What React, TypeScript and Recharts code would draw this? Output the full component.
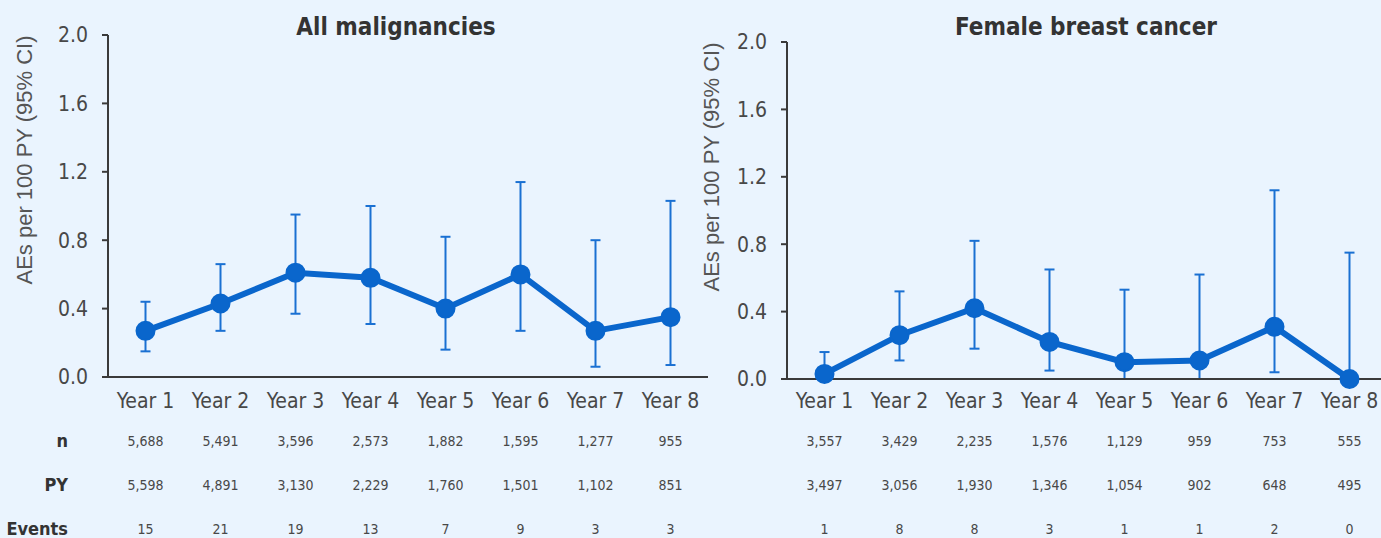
import { ErrorBar, Line, LineChart, XAxis, YAxis } from 'recharts';

const years = ['Year 1', 'Year 2', 'Year 3', 'Year 4', 'Year 5', 'Year 6', 'Year 7', 'Year 8'];
const yTicks = [0, 0.4, 0.8, 1.2, 1.6, 2.0];

// All malignancies
const allRate = [0.27, 0.43, 0.61, 0.58, 0.4, 0.6, 0.27, 0.35];
const allLow = [0.15, 0.27, 0.37, 0.31, 0.16, 0.27, 0.06, 0.07];
const allHigh = [0.44, 0.66, 0.95, 1.0, 0.82, 1.14, 0.8, 1.03];
const allN = [5688, 5491, 3596, 2573, 1882, 1595, 1277, 955];
const allPY = [5598, 4891, 3130, 2229, 1760, 1501, 1102, 851];
const allEvents = [15, 21, 19, 13, 7, 9, 3, 3];

// Female breast cancer
const fbcRate = [0.03, 0.26, 0.42, 0.22, 0.1, 0.11, 0.31, 0.0];
const fbcLow = [0.0, 0.11, 0.18, 0.05, 0.0, 0.0, 0.04, 0.0];
const fbcHigh = [0.16, 0.52, 0.82, 0.65, 0.53, 0.62, 1.12, 0.75];
const fbcN = [3557, 3429, 2235, 1576, 1129, 959, 753, 555];
const fbcPY = [3497, 3056, 1930, 1346, 1054, 902, 648, 495];
const fbcEvents = [1, 8, 8, 3, 1, 1, 2, 0];

const BLUE = '#0a66cc';
const BAR_BLUE = '#1a70d2';
const AXIS = '#3a3a3a';
const TEXT = '#484848';
const COND = "'DejaVu Sans Condensed', 'DejaVu Sans', sans-serif";

const fmt = (v: number) => v.toLocaleString('en-US');

function buildRows(rate: number[], low: number[], high: number[]) {
  return years.map((year, i) => ({
    year,
    pos: i + 0.5,
    rate: rate[i],
    err: [rate[i] - low[i], high[i] - rate[i]],
  }));
}

const rowTick = { fill: TEXT, fontSize: 14, fontFamily: COND };
const rowLabel = (value: string) => ({
  value,
  position: 'left' as const,
  offset: 40,
  fill: '#333',
  fontSize: 18,
  fontWeight: 700,
  fontFamily: COND,
});

type PanelProps = {
  data: ReturnType<typeof buildRows>;
  table: Array<[string, number[]]>;
  top: number;
  plotHeight: number;
  axisWidth: number;
  mainHeight: number;
  mainMargin: number;
  withRowLabels: boolean;
};

function Panel({ data, table, top, plotHeight, axisWidth, mainHeight, mainMargin, withRowLabels }: PanelProps) {
  const rowH = 44;
  const height = top + plotHeight + mainHeight + rowH * table.length;
  const edgeTicks = years.map((_, i) => i).concat(years.length);
  return (
    <LineChart
      width={axisWidth + 600}
      height={height}
      data={data}
      margin={{ top, right: 0, bottom: 0, left: 0 }}
    >
      <XAxis
        xAxisId={0}
        type="number"
        dataKey="pos"
        domain={[0, years.length]}
        ticks={edgeTicks}
        interval={0}
        tick={false}
        tickSize={10}
        height={1}
        axisLine={{ stroke: AXIS, strokeWidth: 2 }}
        tickLine={{ stroke: AXIS, strokeWidth: 2 }}
      />
      <XAxis
        xAxisId={1}
        dataKey="year"
        scale="band"
        interval={0}
        height={mainHeight - 1}
        axisLine={false}
        tickLine={false}
        tickSize={0}
        tickMargin={mainMargin - 1}
        tick={{ fill: TEXT, fontSize: 21, fontFamily: COND }}
      />
      {table.map(([name, values], k) => (
        <XAxis
          key={name}
          xAxisId={k + 2}
          dataKey="year"
          scale="band"
          interval={0}
          height={rowH}
          axisLine={false}
          tickLine={false}
          tickSize={0}
          tickMargin={17}
          tick={rowTick}
          tickFormatter={(_: string, i: number) => fmt(values[i])}
          label={withRowLabels ? rowLabel(name) : undefined}
        />
      ))}
      <YAxis
        width={axisWidth}
        domain={[0, 2]}
        ticks={yTicks}
        interval={0}
        tickFormatter={(v: number) => v.toFixed(1)}
        axisLine={{ stroke: AXIS, strokeWidth: 2 }}
        tickLine={{ stroke: AXIS, strokeWidth: 2 }}
        tickSize={6}
        tickMargin={14}
        tick={{ fill: TEXT, fontSize: 21, fontFamily: COND }}
      />
      <Line
        xAxisId={1}
        dataKey="rate"
        stroke={BLUE}
        strokeWidth={6}
        dot={{ r: 9, fill: BLUE, stroke: BLUE, strokeWidth: 2 }}
        activeDot={false}
        isAnimationActive={false}
      >
        <ErrorBar dataKey="err" direction="y" width={5} stroke={BAR_BLUE} strokeWidth={2} />
      </Line>
    </LineChart>
  );
}

const titleStyle = {
  position: 'absolute' as const,
  top: 15,
  transform: 'translateX(-50%)',
  fontFamily: COND,
  fontWeight: 700,
  fontSize: 24,
  lineHeight: 1,
  color: '#333',
  whiteSpace: 'nowrap' as const,
};

const yLabelStyle = {
  position: 'absolute' as const,
  transform: 'translate(-50%, -50%) rotate(-90deg)',
  fontFamily: "'Liberation Sans', Arial, sans-serif",
  fontSize: 22,
  lineHeight: 1,
  color: '#555',
  whiteSpace: 'nowrap' as const,
};

export default function App() {
  const allData = buildRows(allRate, allLow, allHigh);
  const fbcData = buildRows(fbcRate, fbcLow, fbcHigh);
  const allTable: Array<[string, number[]]> = [['n', allN], ['PY', allPY], ['Events', allEvents]];
  const fbcTable: Array<[string, number[]]> = [['n', fbcN], ['PY', fbcPY], ['Events', fbcEvents]];
  return (
    <div
      style={{
        position: 'absolute',
        left: 0,
        top: 0,
        width: 1381,
        height: 538,
        overflow: 'hidden',
        background: '#eaf4fe',
      }}
    >
      <div style={{ position: 'absolute', left: 0, top: 0 }}>
        <Panel data={allData} table={allTable} top={35} plotHeight={342} axisWidth={108} mainHeight={42} mainMargin={16} withRowLabels />
      </div>
      <div style={{ position: 'absolute', left: 680, top: 0 }}>
        <Panel data={fbcData} table={fbcTable} top={42} plotHeight={337} axisWidth={107} mainHeight={40} mainMargin={14} withRowLabels={false} />
      </div>
      <div style={{ ...titleStyle, left: 396 }}>All malignancies</div>
      <div style={{ ...titleStyle, left: 1086 }}>Female breast cancer</div>
      <div style={{ ...yLabelStyle, left: 25, top: 160 }}>AEs per 100 PY (95% CI)</div>
      <div style={{ ...yLabelStyle, left: 712, top: 167 }}>AEs per 100 PY (95% CI)</div>
    </div>
  );
}
